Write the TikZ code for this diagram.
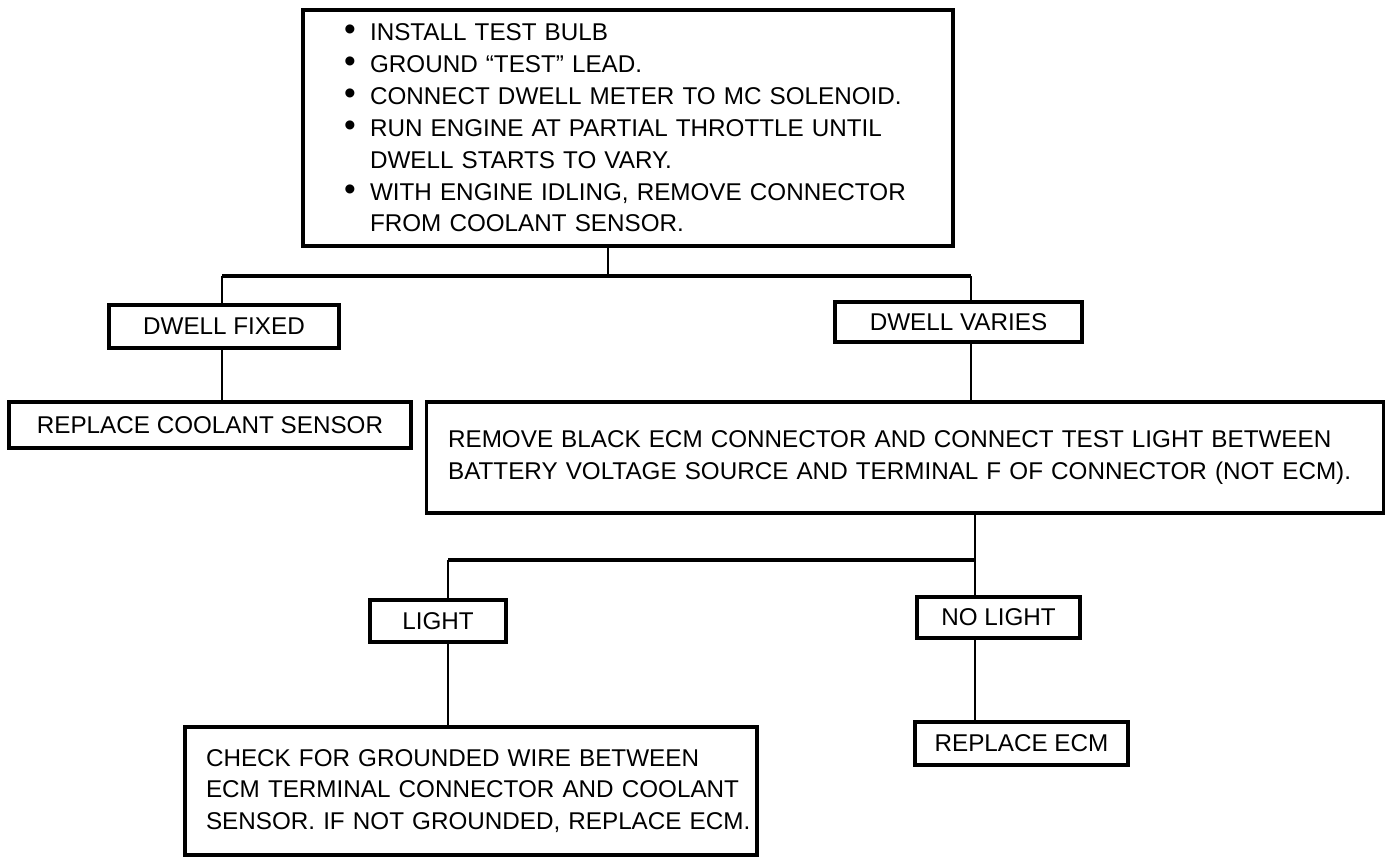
\documentclass[tikz,border=0pt]{standalone}
\usepackage{fontspec}
\setmainfont{Liberation Sans}
\begin{document}
\begin{tikzpicture}[x=0.02cm,y=-0.02cm,
  box/.style={draw, line width=1.8pt, inner sep=0pt, font=\fontsize{13.8pt}{18.14pt}\selectfont},
  lbox/.style={box, align=left},
  conn/.style={line width=1.2pt},
  hconn/.style={line width=2pt}]
\useasboundingbox (0,0) rectangle (1387,857);
\fill[white] (0,0) rectangle (1387,857);
\newcommand{\bul}{\makebox[0.52cm][l]{\smash{\fontsize{19pt}{18pt}\selectfont\textbullet}}}
\newcommand{\nobul}{\makebox[0.52cm][l]{}}
% boxes
\node[lbox, minimum width=13cm, minimum height=4.72cm, text width=11.36cm, inner xsep=0.82cm] (top) at (628,128)
 {\mbox{\bul INSTALL TEST BULB}\\
  \mbox{\bul GROUND “TEST” LEAD.}\\
  \mbox{\bul CONNECT DWELL METER TO MC SOLENOID.}\\
  \mbox{\bul RUN ENGINE AT PARTIAL THROTTLE UNTIL}\\
  \mbox{\nobul DWELL STARTS TO VARY.}\\
  \mbox{\bul WITH ENGINE IDLING, REMOVE CONNECTOR}\\
  \mbox{\nobul FROM COOLANT SENSOR.}};
\node[box, minimum width=4.6cm, minimum height=0.86cm] (fixed) at (224,326.5) {DWELL FIXED};
\node[box, minimum width=4.94cm, minimum height=0.8cm] (varies) at (958.5,322) {DWELL VARIES};
\node[box, minimum width=8.04cm, minimum height=0.92cm] (replcool) at (210,425) {REPLACE COOLANT SENSOR};
\node[lbox, minimum width=19.16cm, minimum height=2.22cm, text width=18.28cm, inner xsep=0.44cm] (remove) at (905,457.5)
 {\mbox{REMOVE BLACK ECM CONNECTOR AND CONNECT TEST LIGHT BETWEEN}\\
  \mbox{BATTERY VOLTAGE SOURCE AND TERMINAL F OF CONNECTOR (NOT ECM).}};
\node[box, minimum width=2.72cm, minimum height=0.84cm] (light) at (438,621) {LIGHT};
\node[box, minimum width=3.26cm, minimum height=0.82cm] (nolight) at (998.5,617.5) {NO LIGHT};
\node[lbox, minimum width=11.44cm, minimum height=2.56cm, text width=10.6cm, inner xsep=0.42cm] (check) at (471,791)
 {\mbox{CHECK FOR GROUNDED WIRE BETWEEN}\\
  \mbox{ECM TERMINAL CONNECTOR AND COOLANT}\\
  \mbox{SENSOR. IF NOT GROUNDED, REPLACE ECM.}};
\node[box, minimum width=4.26cm, minimum height=0.86cm] (replecm) at (1021.5,743.5) {REPLACE ECM};
% junctions
\coordinate (j1) at (608,276);
\coordinate (j1l) at (222,276);
\coordinate (j1r) at (971,276);
\coordinate (j2) at (975,560);
\coordinate (j2l) at (448,560);
% connectors
\draw[conn] (top.south -| j1) -- (j1);
\draw[hconn] (j1l) -- (j1r);
\draw[conn] (j1l) -- (fixed.north -| j1l);
\draw[conn] (j1r) -- (varies.north -| j1r);
\draw[conn] (fixed.south -| j1l) -- (replcool.north -| j1l);
\draw[conn] (varies.south -| j1r) -- (remove.north -| j1r);
\draw[conn] (remove.south -| j2) -- (j2);
\draw[hconn] (j2) -- (j2l);
\draw[conn] (j2l) -- (light.north -| j2l);
\draw[conn] (j2) -- (nolight.north -| j2);
\draw[conn] (light.south -| j2l) -- (check.north -| j2l);
\draw[conn] (nolight.south -| j2) -- (replecm.north -| j2);
\end{tikzpicture}
\end{document}
